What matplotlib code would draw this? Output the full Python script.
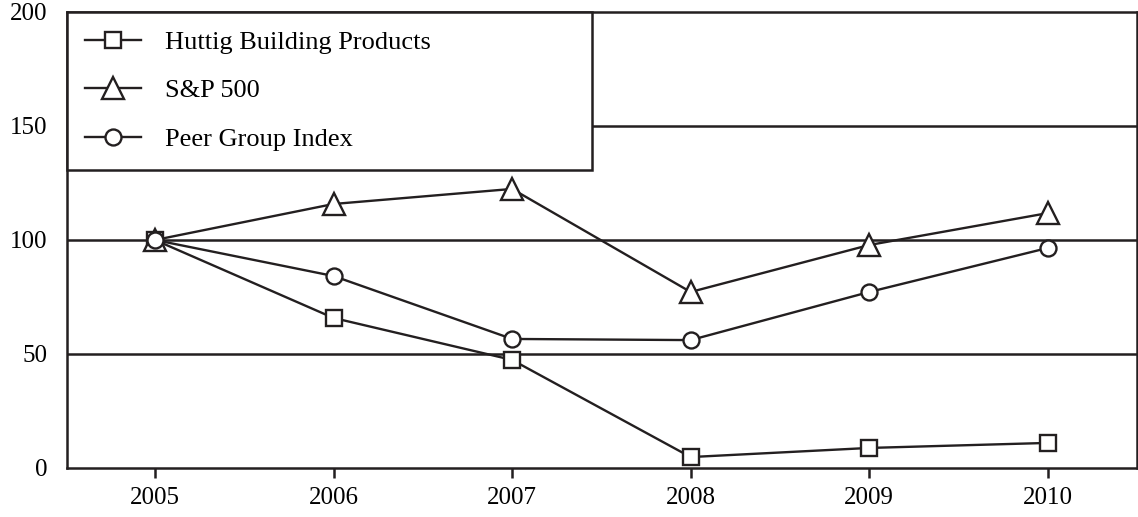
import matplotlib.pyplot as plt

years = [2005, 2006, 2007, 2008, 2009, 2010]
huttig = [100, 65.8, 47.4, 4.8, 8.8, 11.0]
sp500 = [100, 115.8, 122.4, 77.2, 97.8, 111.8]
peer = [100, 84.2, 56.6, 56.1, 77.2, 96.5]
y_ticks = [0, 50, 100, 150, 200]

plt.rcParams['font.family'] = ['Liberation Serif', 'DejaVu Serif']

fig = plt.figure(figsize=(11.38, 5.17), dpi=100)
ax = fig.add_axes([67/1138, 49/517, 1070/1138, 456/517])

for g in [50, 100, 150]:
    ax.axhline(g, color='#231f20', lw=1.8, zorder=1)

style = dict(color='#231f20', lw=1.7, mfc='white', mec='#231f20', mew=1.7, zorder=3)
ax.plot(years, huttig, marker='s', ms=11.5, label='Huttig Building Products', **style)
ax.plot(years, sp500, marker='^', ms=15.5, label='S&P 500', **style)
ax.plot(years, peer, marker='o', ms=11.5, label='Peer Group Index', **style)

ax.set_xlim(2004.507, 2010.5)
ax.set_ylim(0, 200)
ax.set_xticks(years)
ax.set_yticks(y_ticks)
ax.tick_params(axis='x', length=7, width=1.8, color='#231f20', pad=7, labelsize=18)
ax.tick_params(axis='y', length=0, pad=14, labelsize=18)
for s in ax.spines.values():
    s.set_linewidth(1.8)
    s.set_color('#231f20')

leg = ax.legend(loc='upper left', bbox_to_anchor=(0, 0.664, 0.491, 0.336), mode='expand',
                borderaxespad=0, fancybox=False, framealpha=1, edgecolor='#231f20',
                fontsize=19, handlelength=2.1, handletextpad=0.9, labelspacing=0.95,
                borderpad=0.7)
leg.get_frame().set_linewidth(1.8)
leg.set_zorder(5)

fig.savefig('out.png', dpi=100)
